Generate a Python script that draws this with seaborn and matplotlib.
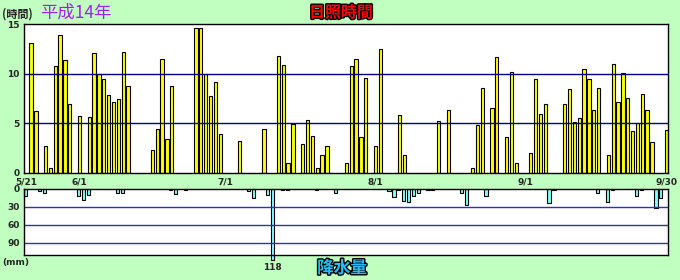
import numpy as np
import pandas as pd
import matplotlib
matplotlib.use('Agg')
import matplotlib.pyplot as plt
import matplotlib.patheffects as pe
import seaborn as sns

# Day index 0 = 5/21 ... 132 = 9/30 (平成14年)
sun_days = [1, 2, 4, 5, 6, 7, 8, 9, 11, 13, 14, 15, 16, 17, 18, 19, 20, 21,
            26, 27, 28, 29, 30, 35, 36, 37, 38, 39, 40, 44, 49, 52, 53, 54, 55,
            57, 58, 59, 60, 61, 62, 66, 67, 68, 69, 70, 72, 73, 77, 78, 85, 87,
            92, 93, 94, 96, 97, 99, 100, 101, 104, 105, 106, 107, 111, 112, 113,
            114, 115, 116, 117, 118, 120, 121, 122, 123, 124, 125, 126, 127, 128,
            129, 132]
sun_hours = [13.1, 6.2, 2.7, 0.5, 10.8, 13.9, 11.4, 6.9, 5.7, 5.6, 12.1, 10.0, 9.5, 7.9, 7.1, 7.4, 12.2, 8.8,
             2.3, 4.4, 11.5, 3.4, 8.8, 14.6, 14.6, 10.0, 7.8, 9.2, 3.9, 3.2, 4.4, 11.8, 10.9, 1.0, 4.9,
             2.9, 5.3, 3.7, 0.5, 1.8, 2.7, 1.0, 10.8, 11.5, 3.6, 9.6, 2.7, 12.5, 5.8, 1.8, 5.2, 6.3,
             0.5, 4.8, 8.6, 6.5, 11.7, 3.6, 10.2, 1.0, 2.0, 9.5, 5.9, 6.9, 6.9, 8.5, 5.1,
             5.5, 10.5, 9.5, 6.3, 8.6, 1.8, 11.0, 7.1, 10.1, 7.6, 4.2, 5.0, 8.0, 6.3,
             3.1, 4.3]

rain_days = [0, 3, 4, 11, 12, 13, 19, 20, 30, 31, 33, 46, 47, 50, 51, 53, 54, 60, 64,
             75, 76, 77, 78, 79, 80, 81, 83, 84, 90, 91, 95, 108, 109, 118, 120, 121,
             126, 127, 130, 131]
rain_mm = [11, 3.5, 6.5, 11, 18, 10, 6.5, 6.5, 1.5, 8, 1.5, 3.5, 15, 10, 118, 1.5, 1.5, 1.5, 6.5,
           3.5, 13, 1.5, 20, 22, 12, 6.5, 1.5, 1.5, 6.5, 27, 12, 23, 1.5, 6.5, 22, 1.5,
           12, 1.5, 32, 15]

tick_days = [0, 11, 41, 72, 103, 132]
tick_labels = ['5/21', '6/1', '7/1', '8/1', '9/1', '9/30']
sun_yticks = [0, 5, 10, 15]
rain_yticks = [0, 30, 60, 90]

sns.set_theme(style='white')
plt.rcParams['font.family'] = ['DejaVu Sans', 'Noto Sans CJK JP']
plt.rcParams['font.weight'] = 'bold'

BG = '#C0FFC0'
fig = plt.figure(figsize=(6.8, 2.8), dpi=100, facecolor=BG)
ax1 = fig.add_axes([24/680, 107/280, 644/680, 149/280])
ax2 = fig.add_axes([24/680, 25/280, 644/680, 66/280])

sun_df = pd.DataFrame({'day': sun_days, 'hours': sun_hours})
rain_df = pd.DataFrame({'day': np.array(rain_days) - 0.2, 'mm': rain_mm})

sns.barplot(data=sun_df, x='day', y='hours', native_scale=True, width=0.68,
            color='#FFFF00', saturation=1, edgecolor='black', linewidth=0.8,
            errorbar=None, ax=ax1, zorder=2)
sns.barplot(data=rain_df, x='day', y='mm', native_scale=True, width=0.68,
            color='#80FFFF', saturation=1, edgecolor='black', linewidth=0.8,
            errorbar=None, ax=ax2, zorder=2)

xlim = (-0.45, 132.3)
for ax in (ax1, ax2):
    ax.set_xlim(*xlim)
    ax.set_facecolor('white')
    ax.set_xlabel('')
    ax.set_ylabel('')
    for s in ax.spines.values():
        s.set_visible(True)
        s.set_color('black')
        s.set_linewidth(1.0)
        s.set_zorder(5)
    ax.grid(False)

ax1.set_ylim(0, 15)
ax1.set_yticks(sun_yticks)
ax1.set_xticks(tick_days, tick_labels)
ax1.tick_params(axis='both', length=0, pad=3, labelsize=6.5)
for v in (5, 10):
    ax1.axhline(v, color='#000080', lw=1.0, zorder=3)

ax2.set_ylim(110, 0)
ax2.set_yticks(rain_yticks)
ax2.set_xticks([])
ax2.tick_params(axis='y', length=0, pad=3, labelsize=6.5)
for v in (30, 60, 90):
    ax2.axhline(v, color='#3030B0', lw=1.0, zorder=3)
for p in ax2.patches:
    p.set_clip_on(False)

imax = int(np.argmax(rain_mm))
ax2.annotate(f'{rain_mm[imax]:g}', xy=(rain_days[imax] - 0.2, rain_mm[imax]),
             xytext=(0, -2.5), textcoords='offset points', ha='center', va='top',
             fontsize=6.5, fontweight='bold', annotation_clip=False)

cjk = ['Noto Sans CJK JP', 'DejaVu Sans']
fig.text(2/680, 1 - 14/280, '(時間)', fontsize=8, family=cjk, weight='bold',
         ha='left', va='center')
fig.text(40/680, 1 - 13/280, '平成14年', fontsize=12.5, family=cjk, weight='normal',
         color='#A020F0', ha='left', va='center')
fig.text(341/680, 1 - 12.5/280, '日照時間', fontsize=11.5, family=cjk, weight='bold',
         color='#FF0000', ha='center', va='center',
         path_effects=[pe.withStroke(linewidth=2, foreground='black')])
fig.text(2/680, 1 - 262/280, '(mm)', fontsize=6.5, weight='bold', ha='left', va='center')
fig.text(342/680, 1 - 268/280, '降水量', fontsize=12, family=cjk, weight='bold',
         color='#20C0FF', ha='center', va='center',
         path_effects=[pe.withStroke(linewidth=2, foreground='black')])

fig.savefig('out.png', dpi=100, facecolor=BG)
